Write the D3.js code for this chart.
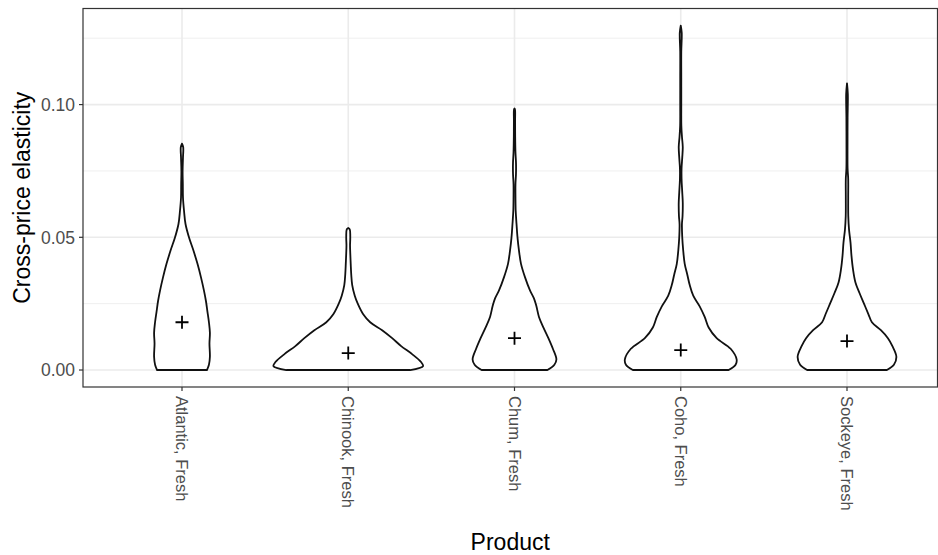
<!DOCTYPE html>
<html>
<head>
<meta charset="utf-8">
<script src="https://cdn.jsdelivr.net/npm/d3@7"></script>
<style>
  body { margin: 0; background: #fff; }
  text { font-family: "Liberation Sans", Arial, sans-serif; }
</style>
</head>
<body>
<div id="chart"></div>
<script>
// categories + mean markers
const products = ["Atlantic, Fresh", "Chinook, Fresh", "Chum, Fresh", "Coho, Fresh", "Sockeye, Fresh"];
const means = [0.018, 0.0064, 0.012, 0.0075, 0.0109];

// violin profiles: elasticity value + relative density (1 = widest violin)
const atlanticY = [0, .002, .005, .010, .014, .018, .022, .026, .030, .035, .040, .045, .050, .055, .060, .065, .070, .075, .080, .084, .0853];
const atlanticD = [.333, .36, .373, .367, .373, .36, .34, .32, .293, .253, .207, .153, .093, .047, .027, .013, .011, .008, .013, .016, 0];

const chinookY = [0, .0015, .003, .006, .009, .012, .015, .018, .021, .025, .028, .032, .036, .040, .044, .047, .050, .053, .0535];
const chinookD = [.827, 1, .973, .853, .707, .587, .453, .293, .2, .127, .087, .053, .04, .033, .027, .024, .027, .02, 0];

const chumY = [0, .002, .004, .008, .012, .016, .020, .024, .027, .030, .035, .040, .045, .050, .055, .060, .065, .070, .074, .078, .082, .088, .094, .098, .0985];
const chumD = [.44, .533, .56, .513, .453, .387, .327, .293, .26, .207, .14, .087, .06, .04, .027, .016, .013, .013, .02, .02, .013, .009, .008, .007, 0];

const cohoY = [0, .002, .004, .008, .012, .016, .020, .024, .028, .032, .036, .040, .045, .050, .055, .058, .063, .067, .072, .076, .080, .084, .088, .092, .100, .110, .120, .127, .1297];
const cohoD = [.64, .733, .747, .667, .48, .373, .32, .253, .167, .12, .087, .053, .033, .02, .016, .024, .027, .02, .011, .011, .02, .027, .016, .008, .007, .007, .007, .013, 0];

const sockeyeY = [0, .002, .005, .009, .012, .015, .018, .021, .025, .029, .033, .038, .043, .048, .053, .058, .065, .072, .076, .085, .095, .104, .108];
const sockeyeD = [.533, .627, .66, .607, .547, .453, .333, .287, .227, .167, .113, .08, .06, .047, .027, .017, .016, .016, .008, .007, .008, .011, 0];

const yTicks = [0, 0.05, 0.10];
const yMinor = [0.025, 0.075, 0.125];

const profiles = [
    [atlanticY, atlanticD],
    [chinookY, chinookD],
    [chumY, chumD],
    [cohoY, cohoD],
    [sockeyeY, sockeyeD]
];

const width = 938, height = 555;
const panel = { left: 83, right: 937.5, top: 8.5, bottom: 387 };

const svg = d3.select("#chart").append("svg")
    .attr("width", width)
    .attr("height", height);

const y = d3.scaleLinear()
    .domain([-0.0064, 0.1362])
    .range([panel.bottom, panel.top]);

const x = d3.scalePoint()
    .domain(products)
    .range([182, 847]);

const step = x.step();
const w = d3.scaleLinear().domain([0, 1]).range([0, step * 0.45]);

// grid
const grid = svg.append("g");
grid.selectAll("line.minor").data(yMinor).enter().append("line")
    .attr("x1", panel.left).attr("x2", panel.right)
    .attr("y1", d => y(d)).attr("y2", d => y(d))
    .attr("stroke", "#ebebeb").attr("stroke-width", 0.8);
grid.selectAll("line.major").data(yTicks).enter().append("line")
    .attr("x1", panel.left).attr("x2", panel.right)
    .attr("y1", d => y(d)).attr("y2", d => y(d))
    .attr("stroke", "#ebebeb").attr("stroke-width", 1.6);
grid.selectAll("line.vx").data(products).enter().append("line")
    .attr("x1", d => x(d)).attr("x2", d => x(d))
    .attr("y1", panel.top).attr("y2", panel.bottom)
    .attr("stroke", "#ebebeb").attr("stroke-width", 1.6);

// violins
const area = d3.area()
    .curve(d3.curveCatmullRom)
    .y(d => y(d.v));

profiles.forEach((p, i) => {
    const cx = x(products[i]);
    const pts = p[0].map((v, j) => ({ v: v, d: p[1][j] }));
    area.x0(d => cx - w(d.d)).x1(d => cx + w(d.d));
    svg.append("path")
        .datum(pts)
        .attr("d", area)
        .attr("fill", "#fff")
        .attr("stroke", "#111")
        .attr("stroke-width", 1.8)
        .attr("stroke-linejoin", "round");
});

// mean crosses
const cross = svg.append("g");
means.forEach((m, i) => {
    const cx = x(products[i]), cy = y(m);
    cross.append("path")
        .attr("d", `M${cx - 6.5},${cy}H${cx + 6.5}M${cx},${cy - 6.5}V${cy + 6.5}`)
        .attr("stroke", "#000").attr("stroke-width", 1.8);
});

// panel border
svg.append("rect")
    .attr("x", panel.left).attr("y", panel.top)
    .attr("width", panel.right - panel.left).attr("height", panel.bottom - panel.top)
    .attr("fill", "none").attr("stroke", "#333").attr("stroke-width", 1.2);

// y axis
const yAxis = svg.append("g");
yAxis.selectAll("line").data(yTicks).enter().append("line")
    .attr("x1", panel.left - 4).attr("x2", panel.left)
    .attr("y1", d => y(d)).attr("y2", d => y(d))
    .attr("stroke", "#333").attr("stroke-width", 1.2);
yAxis.selectAll("text").data(yTicks).enter().append("text")
    .attr("x", panel.left - 8).attr("y", d => y(d))
    .attr("dy", "0.36em")
    .attr("text-anchor", "end")
    .attr("font-size", 17.5)
    .attr("fill", "#4d4d4d")
    .text(d => d3.format(".2f")(d));

// x axis
const xAxis = svg.append("g");
xAxis.selectAll("line").data(products).enter().append("line")
    .attr("x1", d => x(d)).attr("x2", d => x(d))
    .attr("y1", panel.bottom).attr("y2", panel.bottom + 4)
    .attr("stroke", "#333").attr("stroke-width", 1.2);
xAxis.selectAll("text").data(products).enter().append("text")
    .attr("transform", d => `translate(${x(d)},${panel.bottom + 9}) rotate(90)`)
    .attr("dy", "0.36em")
    .attr("text-anchor", "start")
    .attr("font-size", 16.5)
    .attr("fill", "#4d4d4d")
    .text(d => d);

// titles
svg.append("text")
    .attr("transform", `translate(22,${(panel.top + panel.bottom) / 2}) rotate(-90)`)
    .attr("text-anchor", "middle")
    .attr("dy", "0.36em")
    .attr("font-size", 23)
    .attr("fill", "#000")
    .text("Cross-price elasticity");

svg.append("text")
    .attr("x", (panel.left + panel.right) / 2)
    .attr("y", 550)
    .attr("text-anchor", "middle")
    .attr("font-size", 23)
    .attr("fill", "#000")
    .text("Product");
</script>
</body>
</html>
